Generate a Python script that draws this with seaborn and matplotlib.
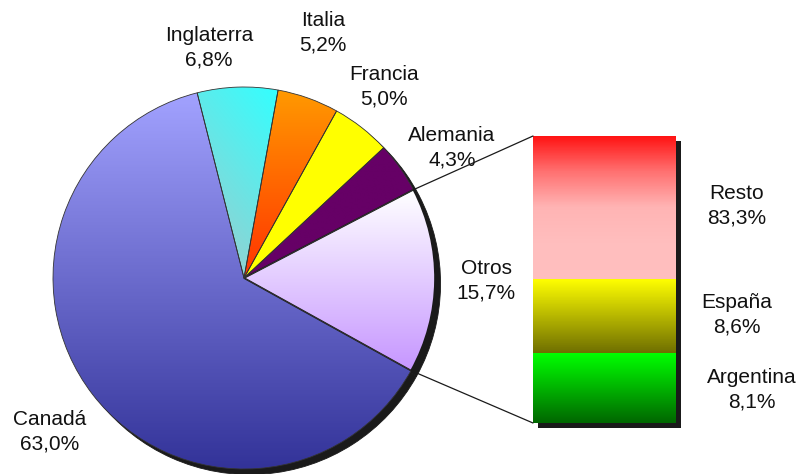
import numpy as np
import matplotlib
matplotlib.use("Agg")
import matplotlib.pyplot as plt
import matplotlib.transforms as mtransforms
from matplotlib.patches import Rectangle, ConnectionPatch
import seaborn as sns

# data
pie_labels = ["Otros", "Alemania", "Francia", "Italia", "Inglaterra", "Canadá"]
pie_values = [15.7, 4.3, 5.0, 5.2, 6.8, 63.0]
bar_labels = ["Argentina", "España", "Resto"]
bar_values = [8.1, 8.6, 83.3]
# segment heights as drawn in the original bar (share of bar, not to scale)
bar_heights = [24.2, 25.8, 50.0]

# gradient colours (top -> bottom), direction
pie_grad = {
    "Otros": (["#ffffff", "#c696ff"], "v"),
    "Alemania": (["#660066", "#660066"], "v"),
    "Francia": (["#ffff00", "#ffff00"], "v"),
    "Italia": (["#ff9900", "#ff3300"], "v"),
    "Inglaterra": (["#33ffff", "#a6c8c8"], "d"),
    "Canadá": (["#a2a2ff", "#333399"], "v"),
}
bar_grad = {
    "Argentina": ["#00ff00", "#006600"],
    "España": ["#ffff00", "#6e6e00"],
    "Resto": ["#ff1010", "#ff7070", "#ffb4b4", "#ffbebe", "#ffbebe"],
}

# label placement (pixel layout of the original)
label_pos = {
    "Inglaterra": (209, 426), "Italia": (323, 441), "Francia": (384, 387),
    "Alemania": (452, 326), "Otros": (486, 193), "Canadá": (50, 42),
    "Resto": (737, 268), "España": (737, 159), "Argentina": (752, 84),
}

sns.set_theme(style="white")
plt.rcParams["font.family"] = ["Liberation Sans", "DejaVu Sans"]


def fill_gradient(ax, patch, colors, direction="v", zorder=1.5):
    cmap = sns.blend_palette(colors, as_cmap=True)
    bb = patch.get_path().transformed(patch.get_patch_transform()).get_extents()
    yy, xx = np.mgrid[0:1:200j, 0:1:200j]
    if direction == "d":
        v = 1 - (0.35 * xx + 0.65 * yy)
    else:
        v = 1 - yy
    im = ax.imshow(v, cmap=cmap, vmin=0, vmax=1, origin="lower", aspect="auto",
                   extent=(bb.x0, bb.x1, bb.y0, bb.y1), interpolation="bilinear",
                   zorder=zorder)
    im.set_clip_path(patch)
    return im


fig = plt.figure(figsize=(8.01, 4.74), dpi=100)
ax = fig.add_axes([0, 0, 1, 1])

center = (244, 196)
radius = 191
wedges, _ = ax.pie(
    pie_values, startangle=-29, counterclock=True, center=center, radius=radius,
    wedgeprops=dict(facecolor="none", edgecolor="#333333", linewidth=0.6, zorder=2),
    shadow=dict(ox=4, oy=-4, facecolor="k", edgecolor="k", alpha=1, zorder=1),
)
for w, lab in zip(wedges, pie_labels):
    cols, d = pie_grad[lab]
    fill_gradient(ax, w, cols, d)
wedges[0].set_edgecolor("k")
wedges[0].set_linewidth(1.2)

for lab, val in zip(pie_labels, pie_values):
    x, y = label_pos[lab]
    ax.text(x, y, f"{lab}\n{val:.1f}%".replace(".", ","), ha="center", va="center",
            fontsize=15, linespacing=1.35, color="#111111")

ax.set_xlim(0, 801)
ax.set_ylim(0, 474)
ax.set_aspect("equal")
ax.axis("off")

# bar of the "Otros" slice
bax = fig.add_axes([533 / 801, 51 / 474, 143 / 801, 287 / 474])
total = sum(bar_heights)
bottoms = np.concatenate([[0], np.cumsum(bar_heights)[:-1]])
bars = bax.bar(0, bar_heights, bottom=bottoms, width=1, color="none",
               edgecolor="none", zorder=2)

# one stacked image so the segments join without seams
rows = 1200
ys = (np.arange(rows) + 0.5) / rows * total
img = np.zeros((rows, 2, 3))
for b, lab in zip(bars, bar_labels):
    y0, h = b.get_y(), b.get_height()
    m = (ys >= y0) & (ys < y0 + h)
    cmap = sns.blend_palette(bar_grad[lab], as_cmap=True)
    frac = 1 - (ys[m] - y0) / h
    img[m] = cmap(frac)[:, None, :3]
bax.imshow(img, origin="lower", aspect="auto", extent=(-0.5, 0.5, 0, total),
           interpolation="nearest", zorder=1.5)

shadow_tr = mtransforms.offset_copy(bax.transData, fig=fig, x=5, y=-5, units="dots")
bax.add_patch(Rectangle((-0.5, 0), 1, total, transform=shadow_tr,
                        facecolor="k", edgecolor="none", zorder=0, clip_on=False))
bax.set_xlim(-0.5, 0.5)
bax.set_ylim(0, total)
bax.axis("off")

for lab, val in zip(bar_labels, bar_values):
    x, y = label_pos[lab]
    ax.text(x, y, f"{lab}\n{val:.1f}%".replace(".", ","), ha="center", va="center",
            fontsize=15, linespacing=1.35, color="#111111")

# connector lines from Otros slice to the bar
otros = wedges[0]
for theta, ybar in [(otros.theta2, total), (otros.theta1, 0)]:
    pt = (center[0] + radius * np.cos(np.radians(theta)),
          center[1] + radius * np.sin(np.radians(theta)))
    con = ConnectionPatch(xyA=pt, coordsA=ax.transData, xyB=(-0.5, ybar),
                          coordsB=bax.transData, color="k", linewidth=0.9, zorder=5)
    fig.add_artist(con)

fig.savefig("out.png", dpi=100)
